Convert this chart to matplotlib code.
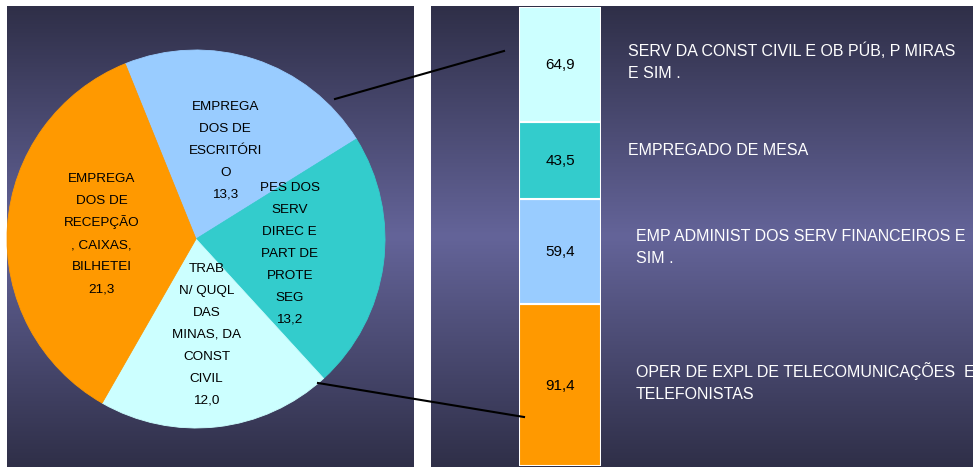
import numpy as np
import matplotlib
matplotlib.use("Agg")
import matplotlib.pyplot as plt
from matplotlib.colors import LinearSegmentedColormap
from matplotlib.lines import Line2D

plt.rcParams['font.family'] = ['Liberation Sans', 'DejaVu Sans']

W, H = 973, 468

# pie slices, clockwise from the top-left edge
pie_labels = ["EMPREGA\nDOS DE\nESCRITÓRI\nO",
              "PES DOS\nSERV\nDIREC E\nPART DE\nPROTE\nSEG",
              "TRAB\nN/ QUQL\nDAS\nMINAS, DA\nCONST\nCIVIL",
              "EMPREGA\nDOS DE\nRECEPÇÃO\n, CAIXAS,\nBILHETEI"]
pie_values = [13.3, 13.2, 12.0, 21.3]
pie_colors = ["#99CCFF", "#33CCCC", "#CCFFFF", "#FF9900"]

# breakdown bar, bottom to top
bar_labels = ["OPER DE EXPL DE TELECOMUNICAÇÕES  E\nTELEFONISTAS",
              "EMP ADMINIST DOS SERV FINANCEIROS E\nSIM .",
              "EMPREGADO DE MESA",
              "SERV DA CONST CIVIL E OB PÚB, P MIRAS\nE SIM ."]
bar_values = [91.4, 59.4, 43.5, 64.9]
bar_colors = ["#FF9900", "#99CCFF", "#33CCCC", "#CCFFFF"]


def fmt(v):
    return f"{v:.1f}".replace(".", ",")


def px_axes(x0, y0, x1, y1):
    # box given in pixels, origin top-left
    return fig.add_axes([x0 / W, 1 - y1 / H, (x1 - x0) / W, (y1 - y0) / H])


def text_block(ax, xy, lines, pitch, size, ha='center', dx=0, dy=0, **kw):
    # one annotate per line so the spacing stays even with accents
    n = len(lines)
    cap = 0.716 * size * 100 / 72
    for i, s in enumerate(lines):
        ax.annotate(s, xy, xytext=(dx, dy + ((n - 1) / 2 - i) * pitch - cap / 2),
                    textcoords='offset pixels', ha=ha, va='baseline',
                    fontsize=size, annotation_clip=False, **kw)


fig = plt.figure(figsize=(W / 100, H / 100), dpi=100)
fig.patch.set_facecolor('white')

grad = LinearSegmentedColormap.from_list("bg", ["#2f2f48", "#646499", "#2f2f48"])
for box in [(7, 6, 414, 466.5), (431, 6, 973, 466.5)]:
    bg = px_axes(*box)
    bg.imshow(np.linspace(0, 1, 256).reshape(-1, 1), cmap=grad, aspect='auto',
              extent=(0, 1, 0, 1))
    bg.set_axis_off()

# pie
ax = px_axes(7, 50, 385, 428)
wedges, _ = ax.pie(pie_values, colors=pie_colors, startangle=112, counterclock=False,
                   radius=1, wedgeprops=dict(linewidth=0.6))
ax.set_xlim(-1, 1)
ax.set_ylim(-1, 1)
for w, c, lab, v in zip(wedges, pie_colors, pie_labels, pie_values):
    w.set_edgecolor(c)
    ang = np.deg2rad((w.theta1 + w.theta2) / 2)
    lines = lab.split("\n") + [fmt(v)]
    text_block(ax, (0.5 * np.cos(ang), 0.5 * np.sin(ang)), lines, 22, 9.7, color='black')

# stacked bar
bx = px_axes(519, 7, 601, 466)
bottoms = np.concatenate([[0], np.cumsum(bar_values)[:-1]])
bx.bar(0, bar_values, bottom=bottoms, width=1, color=bar_colors,
       edgecolor='white', linewidth=1.5)
bx.set_xlim(-0.5, 0.5)
bx.set_ylim(0, sum(bar_values))
bx.set_axis_off()

label_dx = [35, 35, 27, 27]
label_dy = [3, 5, 11, 3]
for b, v, lab, ddx, ddy in zip(bottoms, bar_values, bar_labels, label_dx, label_dy):
    yc = b + v / 2
    text_block(bx, (0, yc), [fmt(v)], 0, 11, dy=1, color='black')
    text_block(bx, (0.5, yc), lab.split("\n"), 22, 11.5, ha='left', dx=ddx, dy=ddy,
               color='white')

# connector lines from pie to bar
for (x0, y0), (x1, y1) in [((335, 99), (504, 51)), ((318, 383), (524, 417))]:
    fig.add_artist(Line2D([x0 / W, x1 / W], [1 - y0 / H, 1 - y1 / H],
                          transform=fig.transFigure, color='black', lw=1.5, zorder=10))

fig.savefig("out.png", dpi=100)
